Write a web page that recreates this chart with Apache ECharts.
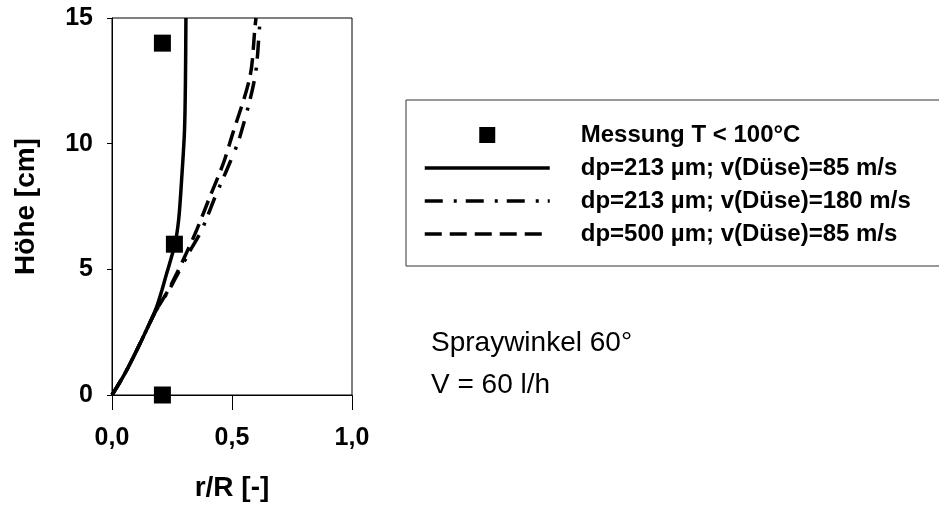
<!DOCTYPE html>
<html>
<head>
<meta charset="utf-8">
<script src="https://cdn.jsdelivr.net/npm/echarts@6/dist/echarts.min.js"></script>
<style>
html, body { margin: 0; padding: 0; background: #fff; }
#chart { width: 939px; height: 510px; }
</style>
</head>
<body>
<div id="chart"></div>
<script>
// Messpunkte [r/R, Höhe]
var messung = [[0.21, 14.0], [0.26, 6.0], [0.21, 0.0]]
// dp=213 µm; v(Düse)=85 m/s
var dp213v85 = [[0, 0], [0.054, 0.86], [0.124, 2.19], [0.186, 3.51], [0.228, 4.84], [0.262, 6.0],
    [0.278, 7.0], [0.29, 8.56], [0.302, 10.5], [0.306, 12.5], [0.308, 15]]
// dp=213 µm; v(Düse)=180 m/s
var dp213v180 = [[0, 0], [0.054, 0.86], [0.124, 2.19], [0.18, 3.3], [0.238, 4.18], [0.275, 4.84],
    [0.32, 5.65], [0.374, 6.57], [0.43, 7.89], [0.49, 9.22], [0.533, 10.28], [0.596, 12.67], [0.615, 14.66], [0.618, 15]]
// dp=500 µm; v(Düse)=85 m/s
var dp500v85 = [[0, 0], [0.054, 0.86], [0.124, 2.19], [0.18, 3.3], [0.235, 4.18], [0.27, 4.84],
    [0.31, 5.65], [0.353, 6.57], [0.408, 7.89], [0.464, 9.22], [0.499, 10.28], [0.575, 12.67], [0.596, 14.66], [0.6, 15]]
var xTicks = [0, 0.5, 1.0]
var yTicks = [0, 5, 10, 15]
var names = ['Messung T < 100°C', 'dp=213 µm; v(Düse)=85 m/s', 'dp=213 µm; v(Düse)=180 m/s', 'dp=500 µm; v(Düse)=85 m/s']

var font = 'Liberation Sans, Arial, sans-serif'
// Linien-Icons in der Legende ohne Punkt
var noDot = { color: 'rgba(0,0,0,0)', borderWidth: 0, opacity: 0 }
var myChart = echarts.init(document.getElementById('chart'))
var options = {
    animation: false,
    backgroundColor: '#fff',
    grid: {
        left: 112,
        right: 587,
        top: 18,
        bottom: 115,
        show: true,
        borderColor: '#000',
        borderWidth: 1
    },
    legend: {
        orient: 'vertical',
        left: 406,
        top: 100,
        padding: [23, 60, 20, 17],
        borderColor: '#333',
        borderWidth: 1,
        itemWidth: 125,
        itemHeight: 16,
        itemGap: 9,
        selectedMode: false,
        lineStyle: { width: 3.5 },
        textStyle: {
            color: '#000',
            fontFamily: font,
            fontWeight: 'bold',
            fontSize: 24,
            lineHeight: 24,
            padding: [0, 0, 0, 26]
        },
        data: [
            { name: names[0], icon: 'path://M0,0H10V10H0Z' },
            { name: names[1], itemStyle: noDot },
            { name: names[2], itemStyle: noDot },
            { name: names[3], itemStyle: noDot }
        ]
    },
    xAxis: {
        type: 'value',
        min: xTicks[0],
        max: xTicks[xTicks.length - 1],
        interval: 0.5,
        name: 'r/R [-]',
        nameLocation: 'middle',
        nameGap: 79,
        nameTextStyle: { color: '#000', fontFamily: font, fontWeight: 'bold', fontSize: 28 },
        axisLine: { show: true, lineStyle: { color: '#000', width: 1 } },
        axisTick: { show: true, length: 15, lineStyle: { color: '#000' } },
        splitLine: { show: false },
        axisLabel: {
            color: '#000',
            fontFamily: font,
            fontWeight: 'bold',
            fontSize: 25,
            margin: 31,
            formatter: function (v) { return v.toFixed(1).replace('.', ',') }
        }
    },
    yAxis: {
        type: 'value',
        min: yTicks[0],
        max: yTicks[yTicks.length - 1],
        interval: 5,
        name: 'Höhe [cm]',
        nameLocation: 'middle',
        nameGap: 72,
        nameTextStyle: { color: '#000', fontFamily: font, fontWeight: 'bold', fontSize: 28 },
        axisLine: { show: true, lineStyle: { color: '#000', width: 1 } },
        axisTick: { show: true, length: 5, lineStyle: { color: '#000' } },
        splitLine: { show: false },
        axisLabel: {
            color: '#000',
            fontFamily: font,
            fontWeight: 'bold',
            fontSize: 25,
            margin: 19
        }
    },
    graphic: [
        {
            type: 'text',
            left: 431,
            top: 329,
            style: { text: 'Spraywinkel 60°', font: '28px ' + font, fill: '#000' }
        },
        {
            type: 'text',
            left: 431,
            top: 371,
            style: { text: 'V = 60 l/h', font: '28px ' + font, fill: '#000' }
        }
    ],
    series: [
        {
            name: names[1],
            type: 'line',
            data: dp213v85,
            symbol: 'none',
            smooth: 0.3,
            lineStyle: { color: '#000', width: 3.5, type: 'solid' },
            itemStyle: { color: '#000' }
        },
        {
            name: names[2],
            type: 'line',
            data: dp213v180,
            symbol: 'none',
            smooth: 0.3,
            lineStyle: { color: '#000', width: 3.5, type: [18, 11, 3, 9] },
            itemStyle: { color: '#000' }
        },
        {
            name: names[3],
            type: 'line',
            data: dp500v85,
            symbol: 'none',
            smooth: 0.3,
            lineStyle: { color: '#000', width: 3.5, type: [17, 8] },
            itemStyle: { color: '#000' }
        },
        {
            name: names[0],
            type: 'scatter',
            data: messung,
            symbol: 'rect',
            symbolSize: 17,
            z: 5,
            itemStyle: { color: '#000', opacity: 1 }
        }
    ]
}
myChart.setOption(options)
</script>
</body>
</html>
